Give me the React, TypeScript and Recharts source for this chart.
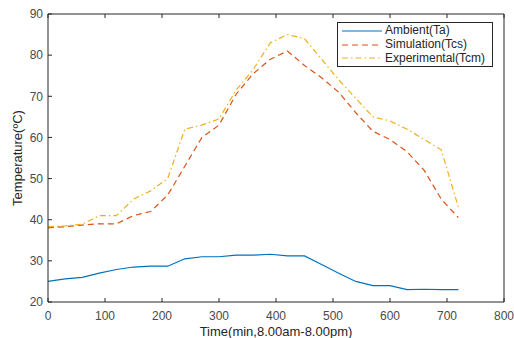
import React from 'react';
import { LineChart, Line, XAxis, YAxis, Legend } from 'recharts';

// time in minutes from 8:00am
const times = [0, 30, 60, 90, 120, 150, 180, 210, 240, 270, 300, 330, 360, 390, 420, 450, 480, 510, 540, 570, 600, 630, 660, 690, 720];
const ambient = [25, 25.6, 26, 27, 27.9, 28.5, 28.7, 28.7, 30.5, 31, 31, 31.4, 31.4, 31.6, 31.2, 31.2, 29.1, 27, 25, 24, 24, 23, 23.1, 23, 23];
const simulation = [38, 38.3, 38.7, 39, 39, 41, 42, 46, 53, 60, 63, 70.5, 75.5, 79, 81, 77.5, 74.5, 71, 66, 61.5, 59.5, 56.5, 52, 45, 40.5];
const experimental = [38.3, 38.5, 38.9, 41, 41, 45, 47, 50, 62, 63, 64.5, 71.5, 76.5, 83, 85, 84, 79, 74, 69.5, 65, 64, 62, 59.5, 57, 43];

const xTicks = [0, 100, 200, 300, 400, 500, 600, 700, 800];
const yTicks = [20, 30, 40, 50, 60, 70, 80, 90];

const series = [
  { key: 'ambient', name: 'Ambient(Ta)', color: '#0072BD', dash: undefined },
  { key: 'simulation', name: 'Simulation(Tcs)', color: '#D95319', dash: '6 4' },
  { key: 'experimental', name: 'Experimental(Tcm)', color: '#EDB120', dash: '6 3 1.5 3' },
];

const data = times.map((t, i) => ({
  t,
  ambient: ambient[i],
  simulation: simulation[i],
  experimental: experimental[i],
}));

const font = 'Liberation Sans, Arial, Helvetica, sans-serif';
const axisColor = '#262626';
const tickStyle = { fill: '#4a4a4a', fontSize: 12, fontFamily: font };
const blank = () => <g />;

function LegendBox() {
  return (
    <div
      style={{
        border: `1px solid ${axisColor}`,
        background: '#fff',
        width: 156,
        height: 45,
        boxSizing: 'border-box',
        paddingTop: 1,
        fontFamily: font,
        fontSize: 12,
        color: '#262626',
      }}
    >
      {series.map((s) => (
        <div key={s.key} style={{ display: 'flex', alignItems: 'center', height: 13.8 }}>
          <svg width={47} height={8} style={{ flex: 'none' }}>
            <line x1={4} y1={4} x2={44} y2={4} stroke={s.color} strokeWidth={1.2} strokeDasharray={s.dash} />
          </svg>
          <span style={{ lineHeight: '13px', whiteSpace: 'nowrap' }}>{s.name}</span>
        </div>
      ))}
    </div>
  );
}

export default function App() {
  return (
    <div style={{ position: 'absolute', left: 0, top: 0, width: 514, height: 338, background: '#fff' }}>
      <LineChart width={514} height={338} data={data} margin={{ top: 13, right: 9, left: 0, bottom: 0 }}>
        <XAxis
          dataKey="t"
          type="number"
          domain={[0, 800]}
          ticks={xTicks}
          height={36}
          stroke={axisColor}
          tickSize={-4}
          tickMargin={13}
          tick={tickStyle}
          interval={0}
          label={{ value: 'Time(min,8.00am-8.00pm)', position: 'insideBottom', offset: 2, fill: '#262626', fontSize: 13, fontFamily: font }}
        />
        <XAxis xAxisId="top" dataKey="t" orientation="top" type="number" domain={[0, 800]} ticks={xTicks} height={1} stroke={axisColor} tickSize={-4} tick={blank} interval={0} />
        <YAxis
          type="number"
          domain={[20, 90]}
          ticks={yTicks}
          width={48}
          stroke={axisColor}
          tickSize={-4}
          tickMargin={9}
          tick={tickStyle}
          interval={0}
          label={{
            content: ({ viewBox }: any) => (
              <text
                x={17}
                y={viewBox.y + viewBox.height / 2}
                transform={`rotate(-90 17 ${viewBox.y + viewBox.height / 2})`}
                textAnchor="middle"
                dominantBaseline="central"
                fill="#262626"
                fontSize={13}
                fontFamily={font}
              >
                Temperature(ºC)
              </text>
            ),
          }}
        />
        <YAxis yAxisId="right" orientation="right" type="number" domain={[20, 90]} ticks={yTicks} width={1} stroke={axisColor} tickSize={-4} tick={blank} interval={0} />
        <Legend
          layout="vertical"
          align="center"
          verticalAlign="middle"
          wrapperStyle={{ top: 22, left: 337, width: 'auto' }}
          content={() => <LegendBox />}
        />
        {series.map((s) => (
          <Line
            key={s.key}
            dataKey={s.key}
            name={s.name}
            type="linear"
            stroke={s.color}
            strokeWidth={1.2}
            strokeDasharray={s.dash}
            dot={false}
            isAnimationActive={false}
          />
        ))}
      </LineChart>
    </div>
  );
}
